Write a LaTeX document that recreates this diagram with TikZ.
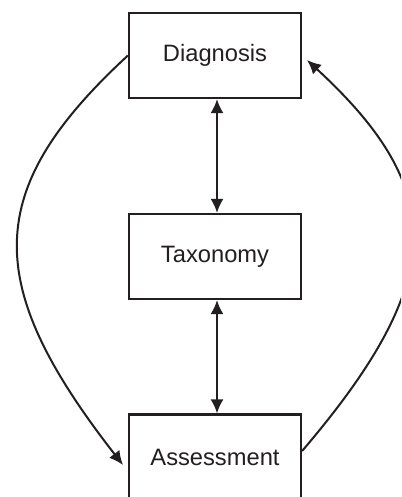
\documentclass[tikz,border=0pt]{standalone}
\usepackage{fontspec}
\setmainfont{Liberation Sans}
\usetikzlibrary{arrows.meta}
\definecolor{ink}{HTML}{231F20}
\tikzset{
  stagebox/.style={draw=ink, line width=2.2pt, fill=white, minimum width=172pt,
    minimum height=85pt, inner sep=0pt, text=ink,
    font=\fontsize{23.7}{28}\selectfont},
  tip/.style={Latex[length=14pt,width=13pt]},
  link/.style={draw=ink, line width=2pt, -{Latex[length=14pt,width=13pt]}},
  dlink/.style={draw=ink, line width=2pt, {Latex[length=14pt,width=13pt]}-{Latex[length=14pt,width=13pt]}}
}
\begin{document}
\begin{tikzpicture}[x=1pt,y=-1pt]
\useasboundingbox (0,0) rectangle (401,497);
\clip (0,0) rectangle (401,497);
% the three stages
\node[stagebox] (D) at (215,55.5) {Diagnosis};
\node[stagebox] (T) at (215,256.5) {Taxonomy};
\node[stagebox] (A) at (215,457) {Assessment};
% two-way links down the middle
\draw[dlink] ([xshift=2pt]D.south) -- ([xshift=2pt]T.north);
\draw[dlink] ([xshift=2pt]T.south) -- ([xshift=2pt]A.north);
% outer loop
\coordinate (Ain) at (123,465);
\coordinate (Din) at (307,60);
\draw[link] (D.west) .. controls (-18,190) and (-18,284) .. (Ain);
\draw[link] ([yshift=6pt]A.east) .. controls (448,280) and (448,190) .. (Din);
\end{tikzpicture}
\end{document}
